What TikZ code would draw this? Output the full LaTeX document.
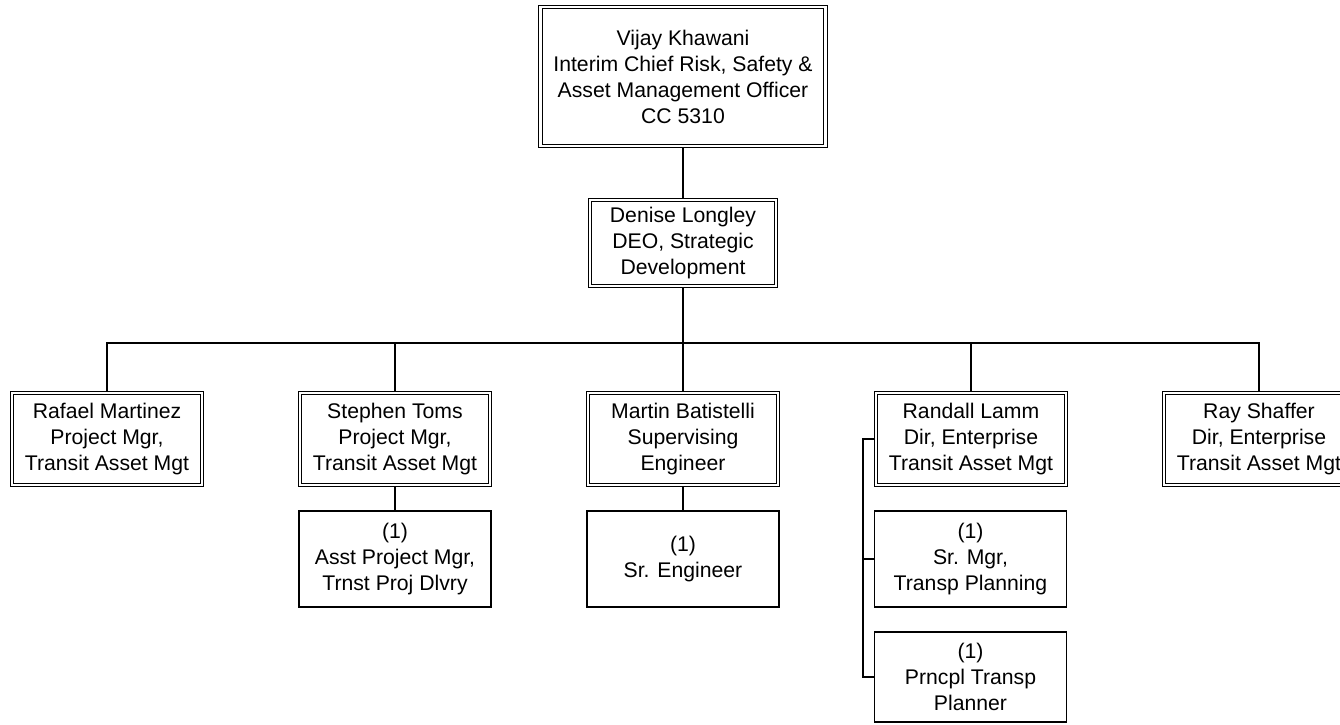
\documentclass[tikz,border=0pt]{standalone}
\usepackage{fontspec}
\setmainfont{Liberation Sans}
\begin{document}
\begin{tikzpicture}[x=0.5pt, y=-0.5pt,
    every node/.style={font=\fontsize{10.6}{13}\selectfont, align=center, inner sep=0pt},
    head/.style={draw, double, line width=0.6pt, double distance=1.25pt, outer sep=0.925pt},
    chief/.style={head, minimum width=95pt, minimum height=46pt},
    post/.style={draw, line width=0.7pt, minimum width=96pt, minimum height=48pt},
    link/.style={line width=0.65pt}]
    \useasboundingbox (0,0) rectangle (1340,724);
    \node[head, minimum width=142.5pt, minimum height=69.5pt] (vk) at (683,76.5) {Vijay Khawani\\Interim Chief Risk, Safety \&\\Asset Management Officer\\CC 5310};
    \node[head, minimum width=93pt, minimum height=43pt] (dl) at (683,243) {Denise Longley\\DEO, Strategic\\Development};
    \node[chief] (rm) at (107,439) {Rafael Martinez\\Project Mgr,\\Transit Asset Mgt};
    \node[chief] (st) at (395,439) {Stephen Toms\\Project Mgr,\\Transit Asset Mgt};
    \node[chief] (mb) at (683,439) {Martin Batistelli\\Supervising\\Engineer};
    \node[chief] (rl) at (971,439) {Randall Lamm\\Dir, Enterprise\\Transit Asset Mgt};
    \node[chief] (rs) at (1259,439) {Ray Shaffer\\Dir, Enterprise\\Transit Asset Mgt};
    \node[post] (apm) at (395,559) {(1)\\Asst Project Mgr,\\Trnst Proj Dlvry};
    \node[post] (se) at (683,559) {(1)\\Sr. Engineer};
    \node[post] (tp) at (970.5,559) {(1)\\Sr. Mgr,\\Transp Planning};
    \node[post, minimum height=45pt] (ptp) at (970.5,677) {(1)\\Prncpl Transp\\Planner};
    \coordinate (bus) at (683,343);
    \coordinate (rlink) at (863,439);
    \draw[link] (vk) -- (dl);
    \draw[link] (dl) -- (bus);
    \foreach \n in {rm,st,mb,rl,rs}
      \draw[link] (bus) -| (\n.north);
    \draw[link] (st) -- (apm);
    \draw[link] (mb) -- (se);
    \draw[link] (rl.west) -- (rlink) |- (tp.west);
    \draw[link] (rlink) |- (ptp.west);
  \end{tikzpicture}
\end{document}
